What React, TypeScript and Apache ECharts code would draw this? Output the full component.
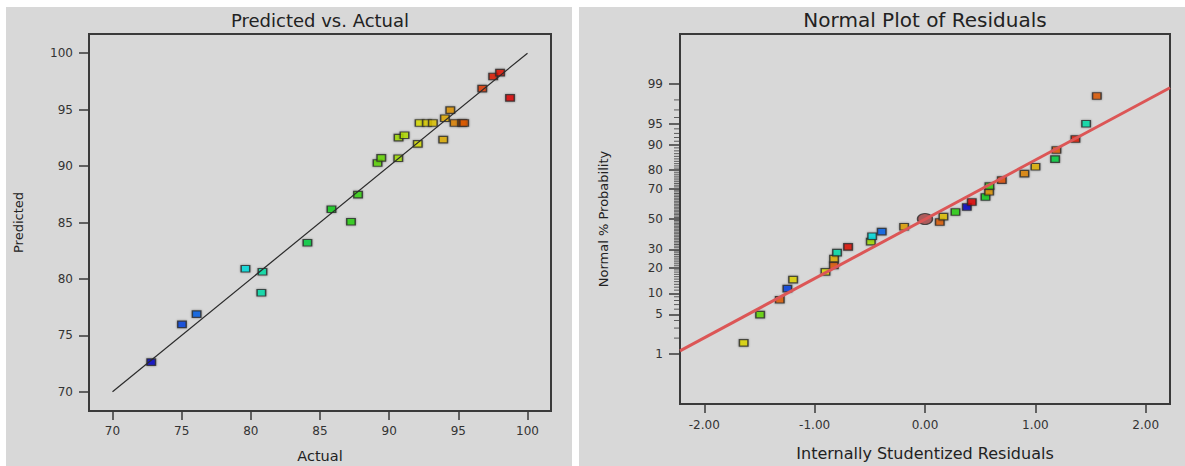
import React, { useEffect, useRef } from "react";
import * as echarts from "echarts";

// ---------- Left panel: Predicted vs. Actual ----------
const actual = [72.8, 75.02, 76.08, 79.61, 80.84, 80.76, 84.09, 85.83, 87.24, 87.75, 89.16, 89.43, 90.66, 90.68, 91.11, 92.07, 92.2, 92.73, 93.16, 93.91, 94.03, 94.42, 94.73, 95.28, 95.42, 96.73, 97.52, 98.02, 98.74];
const predicted = [72.63, 75.97, 76.88, 80.9, 80.64, 78.78, 83.21, 86.17, 85.07, 87.47, 90.27, 90.72, 90.69, 92.52, 92.73, 91.96, 93.82, 93.82, 93.82, 92.34, 94.24, 94.95, 93.82, 93.82, 93.82, 96.86, 97.93, 98.28, 96.04];
const leftTicks = [70, 75, 80, 85, 90, 95, 100];
const identityLine = [70, 100];

// ---------- Right panel: Normal Plot of Residuals ----------
const residuals = [-1.643, -1.494, -1.316, -1.247, -1.195, -0.902, -0.826, -0.824, -0.797, -0.697, -0.491, -0.479, -0.392, -0.189, 0.134, 0.167, 0.276, 0.379, 0.424, 0.548, 0.581, 0.584, 0.696, 0.901, 1.001, 1.179, 1.191, 1.363, 1.46, 1.557];
const normalProb = [1.63, 4.96, 8.2, 11.5, 14.8, 18.1, 21.2, 24.7, 28.1, 31.5, 34.8, 38.3, 41.4, 44.7, 47.9, 51.6, 54.8, 58.2, 61.5, 64.8, 68.1, 71.5, 74.9, 78.3, 81.6, 84.9, 88.3, 91.6, 94.97, 98.3];
// response value of each run (drives the colour of each residual point)
const runResponse = [92.5, 89.3, 95.4, 75.0, 92.7, 92.2, 95.6, 93.9, 80.8, 98.0, 90.7, 79.6, 76.1, 94.2, 95.4, 93.4, 87.2, 72.8, 98.7, 85.8, 94.4, 87.8, 96.0, 94.7, 93.9, 84.1, 95.6, 97.5, 80.8, 95.6];
const probTicks = [1, 5, 10, 20, 30, 50, 70, 80, 90, 95, 99];
const probMinorTicks = [2, 3, 4, 6, 7, 8, 9, 11, 12, 13, 14, 15, 16, 17, 18, 19, 21, 22, 23, 24, 25, 26, 27, 28, 29, 31, 32, 33, 34, 35, 36, 37, 38, 39, 40, 41, 42, 43, 44, 45, 46, 47, 48, 49, 51, 52, 53, 54, 55, 56, 57, 58, 59, 60, 61, 62, 63, 64, 65, 66, 67, 68, 69, 71, 72, 73, 74, 75, 76, 77, 78, 79, 81, 82, 83, 84, 85, 86, 87, 88, 89, 91, 92, 93, 94, 96, 97, 98];
const residTicks = [-2, -1, 0, 1, 2];
const residMin = -2.22;
const residMax = 2.22;
const fitLineResid = [-2.22, 2.22];
const fitLineProb = [1.15, 98.82];
const centerResid = [0];
const centerProb = [50];

// ---------- helpers ----------
function probit(p: number): number {
  const a = [-3.969683028665376e1, 2.209460984245205e2, -2.759285104469687e2, 1.38357751867269e2, -3.066479806614716e1, 2.506628277459239];
  const b = [-5.447609879822406e1, 1.615858368580409e2, -1.556989798598866e2, 6.680131188771972e1, -1.328068155288572e1];
  const c = [-7.784894002430293e-3, -3.223964580411365e-1, -2.400758276161862, -2.549671010229528, 4.374664141464968, 2.938163982698783];
  const d = [7.784695709041462e-3, 3.224671290700398e-1, 2.445134137142996, 3.754408661907416];
  const plow = 0.02425;
  if (p < plow) {
    const q = Math.sqrt(-2 * Math.log(p));
    return (((((c[0] * q + c[1]) * q + c[2]) * q + c[3]) * q + c[4]) * q + c[5]) / ((((d[0] * q + d[1]) * q + d[2]) * q + d[3]) * q + 1);
  }
  if (p > 1 - plow) {
    const q = Math.sqrt(-2 * Math.log(1 - p));
    return -(((((c[0] * q + c[1]) * q + c[2]) * q + c[3]) * q + c[4]) * q + c[5]) / ((((d[0] * q + d[1]) * q + d[2]) * q + d[3]) * q + 1);
  }
  const q = p - 0.5;
  const r = q * q;
  return ((((((a[0] * r + a[1]) * r + a[2]) * r + a[3]) * r + a[4]) * r + a[5]) * q) / (((((b[0] * r + b[1]) * r + b[2]) * r + b[3]) * r + b[4]) * r + 1);
}
const z = (pct: number) => probit(pct / 100);

const colorStops: [number, number[]][] = [
  [72.8, [0, 0, 200]],
  [75, [0, 64, 224]],
  [76.1, [0, 96, 232]],
  [79.6, [0, 224, 224]],
  [81, [0, 224, 160]],
  [84, [0, 208, 64]],
  [86.5, [16, 208, 16]],
  [89.3, [96, 216, 0]],
  [90.8, [168, 224, 0]],
  [92.3, [224, 224, 0]],
  [93.9, [224, 176, 0]],
  [94.5, [224, 144, 0]],
  [95.3, [224, 96, 0]],
  [96.7, [224, 56, 0]],
  [97.8, [224, 16, 0]],
  [98.7, [224, 0, 0]],
];
function colorFor(v: number): string {
  if (v <= colorStops[0][0]) return `rgb(${colorStops[0][1].join(",")})`;
  for (let i = 1; i < colorStops.length; i++) {
    const [v1, c1] = colorStops[i];
    const [v0, c0] = colorStops[i - 1];
    if (v <= v1) {
      const t = (v - v0) / (v1 - v0);
      const c = c0.map((x, k) => Math.round(x + (c1[k] - x) * t));
      return `rgb(${c.join(",")})`;
    }
  }
  return `rgb(${colorStops[colorStops.length - 1][1].join(",")})`;
}

const FONT = "DejaVu Sans";
const BG = "#d8d8d8";
const INK = "#333333";
const FRAME = "#3a3a3a";

const squareStyle = {
  borderColor: "#2a2a2a",
  borderWidth: 1.3,
  shadowBlur: 2,
  shadowColor: "rgba(0,0,0,0.45)",
};

function leftOption(): any {
  const pts = actual.map((a, i) => [a, predicted[i]]);
  return {
    animation: false,
    backgroundColor: BG,
    title: {
      text: "Predicted vs. Actual",
      left: 314,
      top: 4,
      padding: 0,
      textAlign: "center",
      textStyle: { fontFamily: FONT, fontSize: 18, fontWeight: "normal", color: "#222" },
    },
    grid: {
      left: 83,
      top: 27,
      width: 462,
      height: 377,
      show: true,
      borderColor: FRAME,
      borderWidth: 2,
      backgroundColor: "transparent",
      containLabel: false,
      outerBoundsMode: "none",
    },
    xAxis: {
      type: "value",
      min: 68.3,
      max: 101.7,
      name: "Actual",
      nameLocation: "middle",
      nameGap: 37,
      nameTextStyle: { fontFamily: FONT, fontSize: 14.5, color: "#222" },
      axisLine: { show: false, onZero: false },
      axisTick: { show: true, customValues: leftTicks, length: 9, lineStyle: { color: FRAME, width: 1.5 } },
      axisLabel: { customValues: leftTicks, margin: 14, fontFamily: FONT, fontSize: 12, color: INK },
      splitLine: { show: false },
    },
    yAxis: {
      type: "value",
      min: 68.3,
      max: 101.7,
      name: "Predicted",
      nameLocation: "middle",
      nameGap: 64,
      nameRotate: 90,
      nameTextStyle: { fontFamily: FONT, fontSize: 13, color: "#222" },
      axisLine: { show: false, onZero: false },
      axisTick: { show: true, customValues: leftTicks, length: 10, lineStyle: { color: FRAME, width: 1.5 } },
      axisLabel: { customValues: leftTicks, margin: 16, fontFamily: FONT, fontSize: 12, color: INK },
      splitLine: { show: false },
    },
    series: [
      {
        type: "line",
        data: identityLine.map((v) => [v, v]),
        symbol: "none",
        silent: true,
        lineStyle: { color: "#2a2a2a", width: 1.2 },
      },
      {
        type: "scatter",
        data: pts,
        symbol: "rect",
        symbolSize: [8.5, 6.5],
        itemStyle: { ...squareStyle, color: (p: any) => colorFor(p.value[0]) },
      },
    ],
  };
}

function rightOption(): any {
  const majorZ = probTicks.map(z);
  const pts = residuals.map((r, i) => [r, z(normalProb[i]), runResponse[i]]);
  return {
    animation: false,
    backgroundColor: BG,
    title: {
      text: "Normal Plot of Residuals",
      left: 346,
      top: 3,
      padding: 0,
      textAlign: "center",
      textStyle: { fontFamily: FONT, fontSize: 20, fontWeight: "normal", color: "#222" },
    },
    grid: {
      left: 101,
      top: 27,
      width: 490,
      height: 370,
      show: true,
      borderColor: FRAME,
      borderWidth: 2,
      backgroundColor: "transparent",
      containLabel: false,
      outerBoundsMode: "none",
    },
    xAxis: {
      type: "value",
      min: residMin,
      max: residMax,
      name: "Internally Studentized Residuals",
      nameLocation: "middle",
      nameGap: 41,
      nameTextStyle: { fontFamily: FONT, fontSize: 16, color: "#222" },
      axisLine: { show: false, onZero: false },
      axisTick: { show: true, customValues: residTicks, length: 9, lineStyle: { color: FRAME, width: 1.5 } },
      axisLabel: {
        customValues: residTicks,
        margin: 15,
        fontFamily: FONT,
        fontSize: 12,
        color: INK,
        formatter: (v: number) => v.toFixed(2),
      },
      splitLine: { show: false },
    },
    yAxis: {
      type: "value",
      min: -3.19,
      max: 3.19,
      name: "Normal % Probability",
      nameLocation: "middle",
      nameGap: 70,
      nameRotate: 90,
      nameTextStyle: { fontFamily: FONT, fontSize: 13, color: "#222" },
      splitLine: { show: false },
      axisLine: { show: false, onZero: false },
      axisTick: { show: true, customValues: majorZ, length: 11, lineStyle: { color: FRAME, width: 1.5 } },
      axisLabel: {
        customValues: majorZ,
        margin: 17,
        fontFamily: FONT,
        fontSize: 12,
        color: INK,
        formatter: (v: number) => {
          let best = 0;
          majorZ.forEach((m, i) => {
            if (Math.abs(m - v) < Math.abs(majorZ[best] - v)) best = i;
          });
          return String(probTicks[best]);
        },
      },
    },
    series: [
      {
        // minor ticks of the probability axis (thin 5px marks just left of the frame)
        type: "scatter",
        silent: true,
        clip: false,
        data: probMinorTicks.map((p) => [residMin, z(p)]),
        symbol: "rect",
        symbolSize: [5, 1],
        symbolOffset: [-3.5, 0],
        itemStyle: { color: FRAME },
        z: 1,
      },
      {
        type: "line",
        data: fitLineResid.map((r, i) => [r, z(fitLineProb[i])]),
        symbol: "none",
        silent: true,
        lineStyle: { color: "#dc5656", width: 3 },
      },
      {
        type: "scatter",
        data: pts,
        symbol: "rect",
        symbolSize: [8.5, 6.5],
        itemStyle: { ...squareStyle, color: (p: any) => colorFor(p.value[2]) },
      },
      {
        type: "scatter",
        data: centerResid.map((r, i) => [r, z(centerProb[i])]),
        symbol: "circle",
        symbolSize: [15, 11],
        itemStyle: { color: "#a03c3c", borderColor: "#2a2a2a", borderWidth: 1.3 },
      },
    ],
  };
}

export default function App() {
  const leftRef = useRef<HTMLDivElement>(null);
  const rightRef = useRef<HTMLDivElement>(null);
  useEffect(() => {
    const l = echarts.init(leftRef.current as HTMLDivElement, null, { renderer: "svg" });
    const r = echarts.init(rightRef.current as HTMLDivElement, null, { renderer: "svg" });
    l.setOption(leftOption());
    r.setOption(rightOption());
    return () => {
      l.dispose();
      r.dispose();
    };
  }, []);
  return (
    <div style={{ position: "fixed", left: 0, top: 0, width: 1185, height: 466, background: "#ffffff", overflow: "hidden" }}>
      <div ref={leftRef} style={{ position: "absolute", left: 6, top: 7, width: 566, height: 459 }} />
      <div ref={rightRef} style={{ position: "absolute", left: 579, top: 7, width: 606, height: 459 }} />
    </div>
  );
}
